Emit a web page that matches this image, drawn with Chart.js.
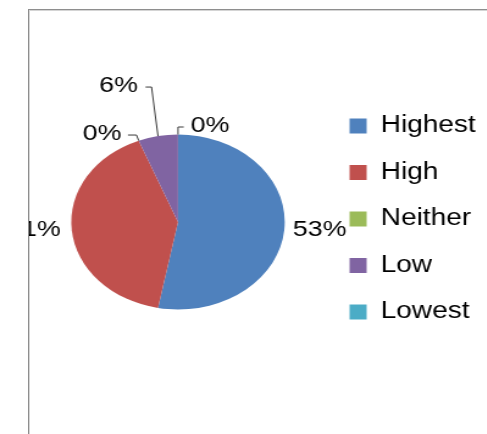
<!DOCTYPE html>
<html>
<head>
<meta charset="utf-8">
<script src="https://cdn.jsdelivr.net/npm/chart.js@4.4.1/dist/chart.umd.min.js"></script>
<style>
  html, body { margin: 0; padding: 0; background: #ffffff; }
  body { width: 487px; height: 434px; position: relative; overflow: hidden; }
  #frame {
    position: absolute; left: 28px; top: 9px; width: 459px; height: 425px;
    border-left: 1px solid #8e8e8e; border-top: 1px solid #8e8e8e;
    box-shadow: inset 1px 1px 0 #d4d4d4;
    overflow: hidden;
  }
  #stage {
    position: absolute; left: -29px; top: -10px; width: 400px; height: 434px;
    transform: scaleX(1.22); transform-origin: 0 0;
  }
  #chart { display: block; width: 400px; height: 434px; }
</style>
</head>
<body>
<div id="frame"><div id="stage"><canvas id="chart" width="400" height="434"></canvas></div></div>
<script>
// Survey answer shares, in percent
const categories = ['Highest', 'High', 'Neither', 'Low', 'Lowest'];
const shares = [53, 41, 0, 6, 0];
const sliceColors = ['#4F81BD', '#C0504D', '#9BBB59', '#8064A2', '#4BACC6'];

// How each percentage label sits next to its slice
const labelPlacement = [
  { mode: 'radial', gap: 7 },
  { mode: 'radial', gap: 9 },
  { mode: 'leader', elbow: [-1.8, -5.6], arm: -7, gap: 5.3, dy: -1 },
  { mode: 'leader', elbow: [-5.3, -49], arm: -4.9, gap: 6.2, dy: -1 },
  { mode: 'leader', elbow: [0, -7.5], arm: 4.7, gap: 5.7, dy: -1 }
];

const FONT = "'Liberation Sans', Arial, sans-serif";
Chart.defaults.font.family = FONT;
Chart.defaults.color = '#000000';

const pieLabels = {
  id: 'pieLabels',
  afterDatasetsDraw(chart, args, opts) {
    const ctx = chart.ctx;
    const meta = chart.getDatasetMeta(0);
    const values = chart.data.datasets[0].data;
    ctx.save();
    ctx.font = opts.size + 'px ' + FONT;
    ctx.fillStyle = '#000000';
    ctx.strokeStyle = '#3a3a3a';
    ctx.lineWidth = 1;
    ctx.textBaseline = 'middle';
    meta.data.forEach((arc, i) => {
      const p = arc.getProps(['x', 'y', 'startAngle', 'endAngle', 'outerRadius'], true);
      const mid = (p.startAngle + p.endAngle) / 2;
      const ax = p.x + p.outerRadius * Math.cos(mid);
      const ay = p.y + p.outerRadius * Math.sin(mid);
      const text = values[i] + '%';
      const place = opts.placement[i];
      if (place.mode === 'radial') {
        const right = Math.cos(mid) >= 0;
        ctx.textAlign = right ? 'left' : 'right';
        ctx.fillText(text, ax + (right ? place.gap : -place.gap), ay);
      } else {
        const ex = ax + place.elbow[0];
        const ey = ay + place.elbow[1];
        const hx = ex + place.arm;
        ctx.beginPath();
        ctx.moveTo(ax, ay);
        ctx.lineTo(ex, ey);
        ctx.lineTo(hx, ey);
        ctx.stroke();
        const right = place.arm > 0;
        ctx.textAlign = right ? 'left' : 'right';
        ctx.fillText(text, hx + (right ? place.gap : -place.gap), ey + place.dy);
      }
    });
    ctx.restore();
  }
};

new Chart(document.getElementById('chart'), {
  type: 'pie',
  data: {
    labels: categories,
    datasets: [{
      data: shares,
      backgroundColor: sliceColors,
      borderWidth: 0,
      radius: 87.5
    }]
  },
  options: {
    responsive: false,
    animation: false,
    events: [],
    layout: { padding: { left: 28.8, right: 0, top: 91, bottom: 81 } },
    plugins: {
      tooltip: { enabled: false },
      legend: {
        position: 'right',
        align: 'start',
        labels: {
          font: { size: 23 },
          color: '#000000',
          boxWidth: 14,
          boxHeight: 15,
          padding: 23.5
        }
      },
      pieLabels: { size: 22, placement: labelPlacement }
    }
  },
  plugins: [pieLabels]
});
</script>
</body>
</html>
